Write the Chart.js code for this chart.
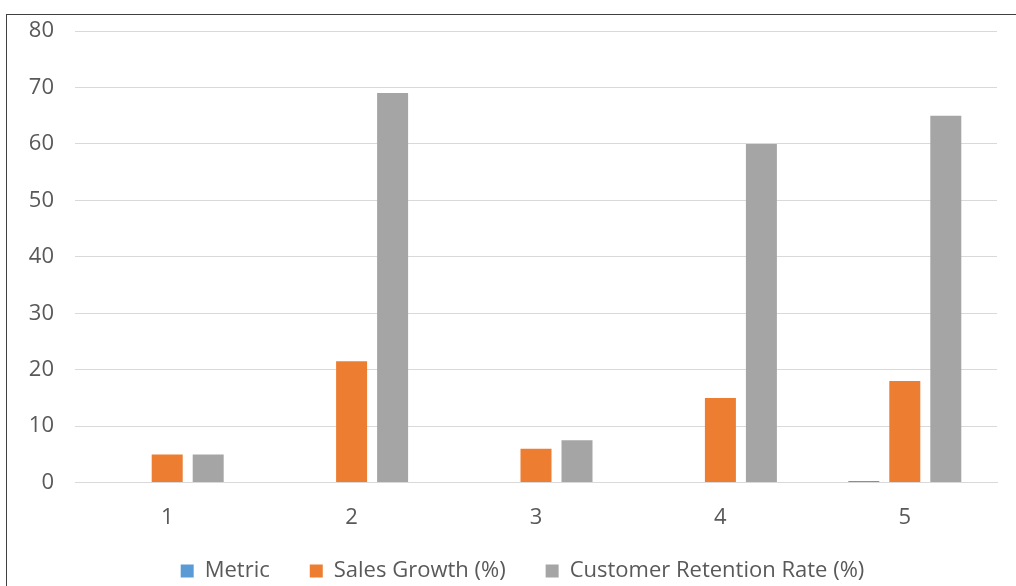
<!DOCTYPE html>
<html>
<head>
<meta charset="utf-8">
<script src="https://cdn.jsdelivr.net/npm/chart.js@4/dist/chart.umd.min.js"></script>
<style>
  html, body { margin: 0; padding: 0; background: #fff; overflow: hidden; }
  #frame { position: absolute; left: 6px; top: 14px; width: 1100px; height: 700px; border: 1px solid #404040; }
  #wrap { position: absolute; left: 0; top: 0; width: 1016px; height: 586px; }
</style>
</head>
<body>
<div id="frame"></div>
<div id="wrap"><canvas id="barChart" width="1016" height="586"></canvas></div>
<script>
var categories = ['1', '2', '3', '4', '5'];
var metric = [0, 0, 0, 0, 0.3];
var salesGrowth = [5, 21.5, 6, 15, 18];
var retentionRate = [5, 69, 7.5, 60, 65];

var chartColors = {
  blue: '#5B9BD5',
  orange: '#ED7D31',
  grey: '#A5A5A5',
  text: '#595959',
  grid: '#D9D9D9'
};

var fontFamily = "'Open Sans', 'Noto Sans', sans-serif";

// keep the wide legend item spacing, but let the plot use the room above it
var legendSqueeze = {
  id: 'legendSqueeze',
  afterInit: function(chart) {
    var legend = chart.legend;
    var fit = legend.fit;
    legend.fit = function() {
      fit.call(this);
      this.height -= 39;
    };
    legend.draw = function() {
      if (this.options.display) this._draw();
    };
  },
  afterLayout: function(chart) {
    var legend = chart.legend;
    legend.top -= 33;
    legend.bottom -= 33;
    legend.left += 24;
    legend.right += 24;
  }
};

window.onload = function() {
  var ctx = document.getElementById('barChart').getContext('2d');
  window.myBar = new Chart(ctx, {
    type: 'bar',
    data: {
      labels: categories,
      datasets: [
        { label: 'Metric', data: metric, backgroundColor: chartColors.blue },
        { label: 'Sales Growth (%)', data: salesGrowth, backgroundColor: chartColors.orange },
        { label: 'Customer Retention Rate (%)', data: retentionRate, backgroundColor: chartColors.grey }
      ]
    },
    plugins: [legendSqueeze],
    options: {
      responsive: false,
      animation: false,
      layout: { padding: { left: 0, right: 19, top: 31, bottom: 0 } },
      datasets: {
        bar: { categoryPercentage: 0.667, barPercentage: 0.756 }
      },
      plugins: {
        tooltip: { enabled: false },
        legend: {
          position: 'bottom',
          labels: {
            boxWidth: 13,
            boxHeight: 13,
            padding: 40,
            color: chartColors.text,
            font: { family: fontFamily, size: 22 }
          }
        }
      },
      scales: {
        x: {
          grid: { display: false, drawTicks: false },
          border: { color: chartColors.grid, width: 1 },
          ticks: { color: chartColors.text, padding: 22, font: { family: fontFamily, size: 22 } }
        },
        y: {
          min: 0,
          max: 80,
          afterFit: function(scale) {
            scale.width = 75;
            scale.paddingTop = 0;
          },
          grid: { color: chartColors.grid, lineWidth: 1, drawTicks: false },
          border: { display: false },
          ticks: { stepSize: 10, color: chartColors.text, padding: 21, font: { family: fontFamily, size: 22 } }
        }
      }
    }
  });
};
</script>
</body>
</html>
